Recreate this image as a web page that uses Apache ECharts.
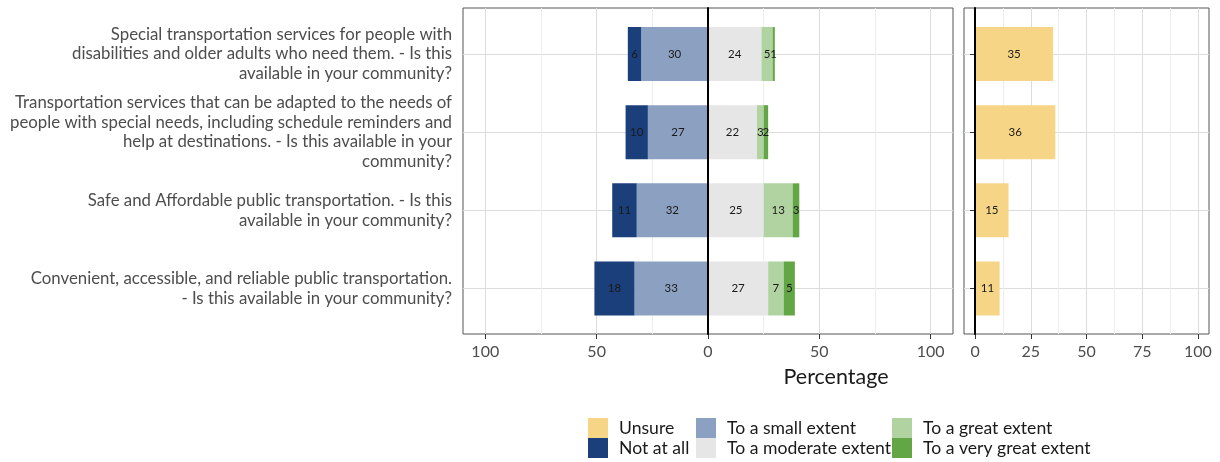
<!DOCTYPE html>
<html>
<head>
<meta charset="utf-8">
<script src="https://cdn.jsdelivr.net/npm/echarts@6/dist/echarts.min.js"></script>
<style>html,body{margin:0;padding:0;background:#fff;}#c{width:1220px;height:462px;}</style>
</head>
<body>
<div id="c"></div>
<script>
const categories = [
  'Special transportation services for people with\ndisabilities and older adults who need them. - Is this\navailable in your community?',
  'Transportation services that can be adapted to the needs of\npeople with special needs, including schedule reminders and\nhelp at destinations. - Is this available in your\ncommunity?',
  'Safe and Affordable public transportation. - Is this\navailable in your community?',
  'Convenient, accessible, and reliable public transportation.\n- Is this available in your community?'
];
const notAtAll = [6, 10, 11, 18];
const smallExtent = [30, 27, 32, 33];
const moderateExtent = [24, 22, 25, 27];
const greatExtent = [5, 3, 13, 7];
const veryGreatExtent = [1, 2, 3, 5];
const unsure = [35, 36, 15, 11];
const leftTicks = [-100, -50, 0, 50, 100];
const leftMinor = [-75, -25, 25, 75];
const rightTicks = [0, 25, 50, 75, 100];
const rightMinor = [12.5, 37.5, 62.5, 87.5];

const FONT = 'Lato';
const colors = {
  'Unsure': '#F6D686',
  'Not at all': '#1B3F7A',
  'To a small extent': '#8CA1C1',
  'To a moderate extent': '#E6E6E6',
  'To a great extent': '#B1D3A2',
  'To a very great extent': '#62A645'
};
const MAJOR = '#dcdcdc', MINOR = '#ededed', BORDER = '#555555';

function frameX(gridIndex, min, max, ticks) {
  return {
    type: 'value', gridIndex, min, max, position: 'bottom',
    axisLine: { show: false },
    axisTick: { show: true, customValues: ticks, length: 5, lineStyle: { color: '#333', width: 1 } },
    axisLabel: { show: true, customValues: ticks, formatter: v => String(Math.abs(v)), color: '#4d4d4d', fontSize: 16, fontFamily: FONT, margin: 10 },
    splitLine: { show: true, lineStyle: { color: MAJOR, width: 1 } }
  };
}
function minorX(gridIndex, min, max, ticks) {
  return {
    type: 'value', gridIndex, min, max, position: 'bottom',
    axisLine: { show: false },
    axisTick: { show: false, customValues: ticks },
    axisLabel: { show: false },
    splitLine: { show: true, lineStyle: { color: MINOR, width: 1 } }
  };
}
function hiddenX(gridIndex, min, max) {
  return { type: 'value', gridIndex, min, max, show: false, splitLine: { show: false } };
}
function zeroY(gridIndex) {
  return {
    type: 'value', gridIndex, min: 0, max: 1, z: 10,
    axisLine: { show: true, onZero: true, lineStyle: { color: '#000', width: 2 } },
    axisTick: { show: false }, axisLabel: { show: false }, splitLine: { show: false }
  };
}
function catY(gridIndex, showLabels) {
  return {
    type: 'category', gridIndex, data: categories, inverse: true, boundaryGap: false,
    axisLine: { show: false },
    axisTick: { show: true, length: 5, lineStyle: { color: '#333' } },
    axisLabel: { show: showLabels, color: '#4d4d4d', fontSize: 16.8, fontFamily: FONT, lineHeight: 19.7, margin: 11, align: 'right' },
    splitLine: { show: true, lineStyle: { color: MAJOR, width: 1 } }
  };
}
const labelCfg = {
  show: true, position: 'inside', color: '#1a1a1a', fontSize: 11.5, fontFamily: FONT,
  formatter: p => String(Math.abs(p.value))
};
function barSeries(name, data, xi, yi, stack) {
  return {
    name, type: 'bar', stack, xAxisIndex: xi, yAxisIndex: yi, data,
    barWidth: 54, itemStyle: { color: colors[name] }, label: labelCfg, z: 3
  };
}
function legendCol(left, names) {
  return {
    orient: 'vertical', left, top: 418, width: 240, height: 44, padding: 0,
    itemWidth: 20, itemHeight: 20, itemGap: 0, icon: 'rect', selectedMode: false,
    data: names,
    textStyle: { fontFamily: FONT, fontSize: 17.6, color: '#1a1a1a', padding: [0, 0, 0, 6] }
  };
}

const chart = echarts.init(document.getElementById('c'), null, { renderer: 'canvas' });
chart.setOption({
  animation: false,
  backgroundColor: '#fff',
  textStyle: { fontFamily: FONT },
  title: {
    text: 'Percentage', left: 831, top: 361, textAlign: 'center',
    textStyle: { fontFamily: FONT, fontSize: 21.5, fontWeight: 'normal', color: '#1a1a1a' }
  },
  grid: [
    { left: 463, top: 8, width: 490, height: 326, show: true, borderColor: BORDER, borderWidth: 1, backgroundColor: 'transparent' },
    { left: 463, top: 54, width: 490, height: 234.5 },
    { left: 964, top: 8, width: 245, height: 326, show: true, borderColor: BORDER, borderWidth: 1, backgroundColor: 'transparent' },
    { left: 964, top: 54, width: 245, height: 234.5 }
  ],
  xAxis: [
    frameX(0, -110, 110, leftTicks),
    minorX(0, -110, 110, leftMinor),
    hiddenX(1, -110, 110),
    frameX(2, -5, 105, rightTicks),
    minorX(2, -5, 105, rightMinor),
    hiddenX(3, -5, 105)
  ],
  yAxis: [
    zeroY(0),
    catY(1, true),
    zeroY(2),
    catY(3, false)
  ],
  legend: [
    legendCol(588, ['Unsure', 'Not at all']),
    legendCol(696, ['To a small extent', 'To a moderate extent']),
    legendCol(892, ['To a great extent', 'To a very great extent'])
  ],
  series: [
    barSeries('To a small extent', smallExtent.map(v => -v), 2, 1, 'likert'),
    barSeries('Not at all', notAtAll.map(v => -v), 2, 1, 'likert'),
    barSeries('To a moderate extent', moderateExtent, 2, 1, 'likert'),
    barSeries('To a great extent', greatExtent, 2, 1, 'likert'),
    barSeries('To a very great extent', veryGreatExtent, 2, 1, 'likert'),
    barSeries('Unsure', unsure, 5, 3, 'unsure')
  ]
});
</script>
</body>
</html>
